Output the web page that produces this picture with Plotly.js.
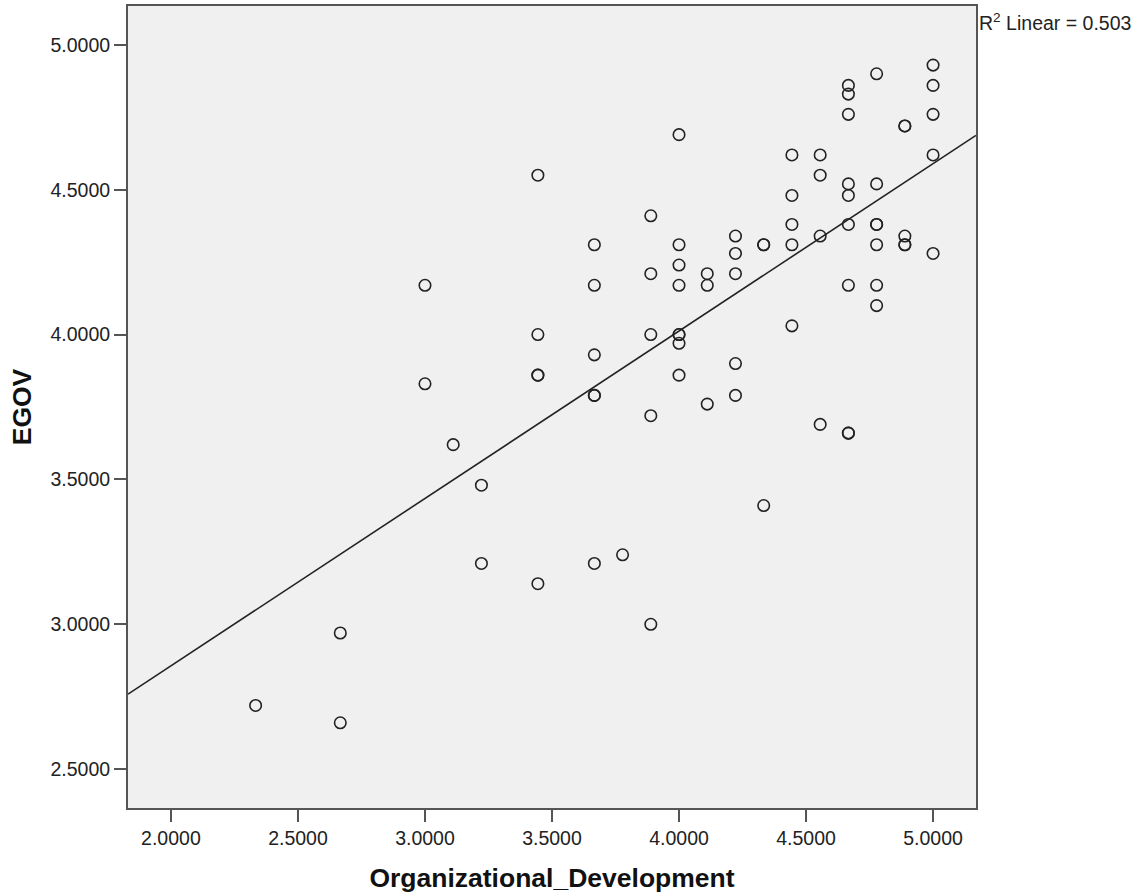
<!DOCTYPE html>
<html>
<head>
<meta charset="utf-8">
<script src="https://cdn.plot.ly/plotly-3.0.1.min.js"></script>
<style>
  html, body { margin: 0; padding: 0; background: #ffffff; }
  #chart { width: 1141px; height: 896px; }
</style>
</head>
<body>
<div id="chart"></div>
<script>
// Organizational_Development (x) and EGOV (y)
const orgDev = [
  2.3333,
  2.6667, 2.6667,
  3.0000, 3.0000,
  3.1111,
  3.2222, 3.2222,
  3.4444, 3.4444, 3.4444, 3.4444, 3.4444,
  3.6667, 3.6667, 3.6667, 3.6667, 3.6667, 3.6667,
  3.7778,
  3.8889, 3.8889, 3.8889, 3.8889, 3.8889,
  4.0000, 4.0000, 4.0000, 4.0000, 4.0000, 4.0000, 4.0000, 4.0000,
  4.1111, 4.1111, 4.1111,
  4.2222, 4.2222, 4.2222, 4.2222, 4.2222,
  4.3333, 4.3333, 4.3333,
  4.4444, 4.4444, 4.4444, 4.4444, 4.4444,
  4.5556, 4.5556, 4.5556, 4.5556,
  4.6667, 4.6667, 4.6667, 4.6667, 4.6667, 4.6667, 4.6667, 4.6667, 4.6667,
  4.7778, 4.7778, 4.7778, 4.7778, 4.7778, 4.7778, 4.7778,
  4.8889, 4.8889, 4.8889, 4.8889, 4.8889,
  5.0000, 5.0000, 5.0000, 5.0000, 5.0000
];
const egov = [
  2.72,
  2.97, 2.66,
  4.17, 3.83,
  3.62,
  3.48, 3.21,
  4.55, 4.00, 3.86, 3.86, 3.14,
  4.31, 4.17, 3.93, 3.79, 3.79, 3.21,
  3.24,
  4.41, 4.21, 4.00, 3.72, 3.00,
  4.69, 4.31, 4.24, 4.17, 4.00, 4.00, 3.97, 3.86,
  4.21, 4.17, 3.76,
  4.34, 4.28, 4.21, 3.90, 3.79,
  4.31, 4.31, 3.41,
  4.62, 4.48, 4.38, 4.31, 4.03,
  4.62, 4.55, 4.34, 3.69,
  4.86, 4.83, 4.76, 4.52, 4.48, 4.38, 4.17, 3.66, 3.66,
  4.90, 4.52, 4.38, 4.38, 4.31, 4.17, 4.10,
  4.72, 4.72, 4.34, 4.31, 4.31,
  4.93, 4.86, 4.76, 4.62, 4.28
];
const xTicks = [2.0, 2.5, 3.0, 3.5, 4.0, 4.5, 5.0];
const xTickLabels = ["2.0000", "2.5000", "3.0000", "3.5000", "4.0000", "4.5000", "5.0000"];
const yTicks = [2.5, 3.0, 3.5, 4.0, 4.5, 5.0];
const yTickLabels = ["2.5000", "3.0000", "3.5000", "4.0000", "4.5000", "5.0000"];
const xTitle = "Organizational_Development";
const yTitle = "EGOV";
const fitLabel = "R<sup>2</sup> Linear = 0.503";

// least-squares fit line computed from the data
const n = orgDev.length;
const mx = orgDev.reduce((a, b) => a + b, 0) / n;
const my = egov.reduce((a, b) => a + b, 0) / n;
let sxy = 0, sxx = 0;
for (let i = 0; i < n; i++) { sxy += (orgDev[i] - mx) * (egov[i] - my); sxx += (orgDev[i] - mx) ** 2; }
const slope = sxy / sxx;
const intercept = my - slope * mx;

const xRange = [1.831, 5.169];
const yRange = [2.366, 5.134];
const fitX = xRange.slice();
const fitY = fitX.map(v => intercept + slope * v);

const tickFont = { family: "Liberation Sans, Arial, sans-serif", size: 19.5, color: "#222" };
const titleFont = { family: "Liberation Sans, Arial, sans-serif", size: 26.5, color: "#111", weight: "bold" };

const traces = [
  {
    x: fitX, y: fitY, type: "scatter", mode: "lines",
    line: { color: "#222", width: 1.6 }, hoverinfo: "skip", showlegend: false
  },
  {
    x: orgDev, y: egov, type: "scatter", mode: "markers",
    marker: { symbol: "circle-open", size: 11.5, color: "#222", line: { width: 1.6, color: "#222" } },
    showlegend: false
  }
];

const layout = {
  width: 1141, height: 896,
  margin: { l: 128, r: 165, t: 6, b: 88 },
  paper_bgcolor: "#ffffff",
  plot_bgcolor: "#f0f0f0",
  showlegend: false,
  xaxis: {
    range: xRange, tickvals: xTicks, ticktext: xTickLabels,
    showgrid: false, zeroline: false,
    showline: true, mirror: true, linecolor: "#555", linewidth: 2,
    ticks: "outside", ticklen: 12, tickwidth: 2, tickcolor: "#555",
    tickfont: tickFont,
    title: { text: xTitle, font: titleFont, standoff: 20 }
  },
  yaxis: {
    range: yRange, tickvals: yTicks, ticktext: yTickLabels,
    showgrid: false, zeroline: false,
    showline: true, mirror: true, linecolor: "#555", linewidth: 2,
    ticks: "outside", ticklen: 12, tickwidth: 2, tickcolor: "#555",
    tickfont: tickFont,
    title: { text: yTitle, font: titleFont, standoff: 11 }
  },
  annotations: [
    {
      text: fitLabel, xref: "paper", yref: "paper", x: 1, y: 0.98,
      xanchor: "left", yanchor: "middle", showarrow: false, xshift: 1,
      font: { family: "Liberation Sans, Arial, sans-serif", size: 19.5, color: "#222" }
    }
  ]
};

Plotly.newPlot("chart", traces, layout, { displayModeBar: false, staticPlot: true });
</script>
</body>
</html>
